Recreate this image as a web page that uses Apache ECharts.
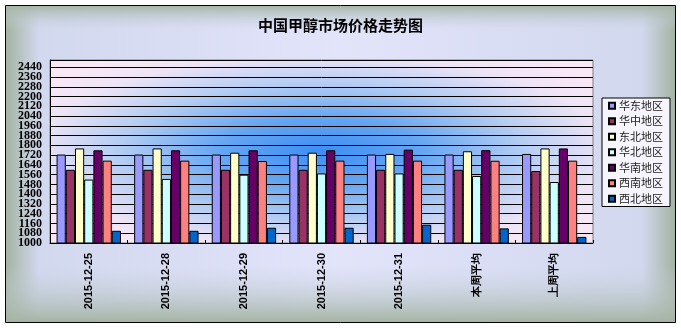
<!DOCTYPE html>
<html>
<head>
<meta charset="utf-8">
<script src="https://cdn.jsdelivr.net/npm/echarts@6/dist/echarts.min.js"></script>
<style>
  html, body { margin: 0; padding: 0; background: #fff; }
  #chart { width: 681px; height: 328px; }
</style>
</head>
<body>
<div id="chart"></div>
<script>
// Categories: trading days plus this-week / last-week averages
const categories = ['2015-12-25', '2015-12-28', '2015-12-29', '2015-12-30', '2015-12-31', '本周平均', '上周平均'];

// Methanol prices by region (yuan/ton)
const huadong  = [1725, 1725, 1725, 1725, 1725, 1725, 1730]; // 华东地区
const huazhong = [1600, 1600, 1600, 1600, 1600, 1600, 1590]; // 华中地区
const dongbei  = [1775, 1775, 1740, 1740, 1730, 1752, 1775]; // 东北地区
const huabei   = [1520, 1525, 1560, 1570, 1570, 1549, 1500]; // 华北地区
const huanan   = [1760, 1760, 1760, 1760, 1765, 1761, 1775]; // 华南地区
const xinan    = [1675, 1675, 1672, 1675, 1675, 1674, 1675]; // 西南地区
const xibei    = [1100, 1100, 1125, 1125, 1150, 1120, 1050]; // 西北地区

const regionNames = ['华东地区', '华中地区', '东北地区', '华北地区', '华南地区', '西南地区', '西北地区'];
const regionData = [huadong, huazhong, dongbei, huabei, huanan, xinan, xibei];
const regionColors = ['#9999ff', '#993366', '#ffffcc', '#ccffff', '#660066', '#ff8080', '#0066cc'];

// Y axis range and step
const yMin = 1000, yMax = 2500, yStep = 80, yLastLabel = 2440;

const chart = echarts.init(document.getElementById('chart'), null, { renderer: 'canvas' });

const edge = '#a3b3a1';
const plot = { x: 50, y: 60, w: 543, h: 183 };

const yLabelStyle = {
  margin: 8,
  fontFamily: 'Liberation Serif',
  fontSize: 12,
  fontWeight: 'bold',
  color: '#000'
};

const option = {
  animation: false,
  title: {
    text: '中国甲醇市场价格走势图',
    left: 'center',
    top: 13,
    textStyle: { fontFamily: 'Noto Sans CJK SC', fontSize: 15, fontWeight: 'bold', color: '#000' }
  },
  graphic: [
    // outer frame background, horizontal fade from the edges
    {
      type: 'rect', z: -30, silent: true,
      shape: { x: 5.5, y: 5.5, width: 670, height: 317 },
      style: {
        fill: new echarts.graphic.LinearGradient(0, 0, 1, 0, [
          { offset: 0, color: edge },
          { offset: 0.05, color: '#d2d8ee' },
          { offset: 0.5, color: '#e2e4fa' },
          { offset: 0.95, color: '#d2d8ee' },
          { offset: 1, color: edge }
        ])
      }
    },
    // vertical fade from the top and bottom edges
    {
      type: 'rect', z: -29, silent: true,
      shape: { x: 5.5, y: 5.5, width: 670, height: 317 },
      style: {
        fill: new echarts.graphic.LinearGradient(0, 0, 0, 1, [
          { offset: 0, color: 'rgba(163,179,161,1)' },
          { offset: 0.08, color: 'rgba(200,210,225,0)' },
          { offset: 0.82, color: 'rgba(200,210,225,0)' },
          { offset: 1, color: 'rgba(163,179,161,1)' }
        ]),
        stroke: '#000', lineWidth: 1
      }
    },
    // plot area glow: a square with a radial fill stretched to the plot width
    {
      type: 'rect', z: -20, silent: true,
      x: plot.x, y: plot.y, scaleX: plot.w / plot.h, scaleY: 1,
      shape: { x: 0, y: 0, width: plot.h, height: plot.h },
      style: {
        fill: new echarts.graphic.RadialGradient(0.5, 0.5, 0.62, [
          { offset: 0, color: '#3d8ef2' },
          { offset: 0.3, color: '#66a6f2' },
          { offset: 0.6, color: '#b4cdf3' },
          { offset: 0.85, color: '#eee4f6' },
          { offset: 1, color: '#f8e8f6' }
        ])
      }
    }
  ],
  legend: {
    orient: 'vertical',
    left: 602,
    top: 98,
    itemWidth: 6,
    itemHeight: 6,
    itemGap: 0,
    padding: [0, 7, 0, 6],
    backgroundColor: '#f6f4fc',
    borderColor: '#000',
    borderWidth: 1,
    icon: 'rect',
    textStyle: { fontFamily: 'Noto Sans CJK SC', fontSize: 11, lineHeight: 15.5, color: '#222', padding: [0, 0, 0, -1] },
    data: regionNames
  },
  grid: {
    left: plot.x, top: plot.y, width: plot.w, height: plot.h,
    show: true, borderColor: '#808080', borderWidth: 1, backgroundColor: 'transparent'
  },
  xAxis: {
    type: 'category',
    data: categories,
    axisLine: { lineStyle: { color: '#000', width: 1 } },
    axisTick: { show: true, inside: true, length: 3, lineStyle: { color: '#000' } },
    axisLabel: {
      rotate: 90,
      margin: 10,
      fontFamily: 'Liberation Sans',
      fontSize: 11,
      fontWeight: 'bold',
      color: '#000'
    }
  },
  yAxis: [
    {
      // main value axis: grid lines and labels from 1080 up
      type: 'value', position: 'left',
      min: yMin, max: yMax, interval: yStep,
      axisLine: { show: true, lineStyle: { color: '#000', width: 1 } },
      axisTick: { show: false },
      splitLine: { lineStyle: { color: '#000', width: 1 } },
      axisLabel: Object.assign({}, yLabelStyle, {
        showMinLabel: false,
        formatter: v => (v > yLastLabel ? '' : String(v))
      })
    },
    {
      // same scale, only carries the bottom label
      type: 'value', position: 'left',
      min: yMin, max: yMax, interval: yStep,
      axisLine: { show: false },
      axisTick: { show: false },
      splitLine: { show: false },
      axisLabel: Object.assign({}, yLabelStyle, {
        showMinLabel: true,
        showMaxLabel: false,
        formatter: v => (v === yMin ? String(v) : '')
      })
    }
  ],
  series: regionNames.map((name, i) => ({
    name: name,
    type: 'bar',
    data: regionData[i],
    barGap: '0%',
    barCategoryGap: '17%',
    itemStyle: { color: regionColors[i], borderColor: '#000', borderWidth: 1 }
  }))
};

chart.setOption(option);
</script>
</body>
</html>
